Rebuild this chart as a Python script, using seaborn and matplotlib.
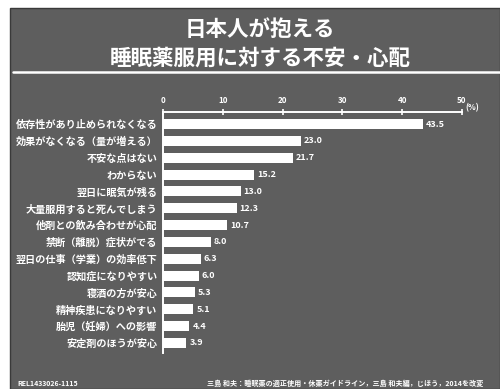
import matplotlib
matplotlib.use("Agg")
import matplotlib.pyplot as plt
from matplotlib.patches import Rectangle
from matplotlib.lines import Line2D
import pandas as pd
import seaborn as sns

# Survey answers: worries about taking sleeping pills (%)
categories = [
    "依存性があり止められなくなる",
    "効果がなくなる（量が増える）",
    "不安な点はない",
    "わからない",
    "翌日に眠気が残る",
    "大量服用すると死んでしまう",
    "他剤との飲み合わせが心配",
    "禁断（離脱）症状がでる",
    "翌日の仕事（学業）の効率低下",
    "認知症になりやすい",
    "寝酒の方が安心",
    "精神疾患になりやすい",
    "胎児（妊婦）への影響",
    "安定剤のほうが安心",
]
values = [43.5, 23.0, 21.7, 15.2, 13.0, 12.3, 10.7, 8.0, 6.3, 6.0, 5.3, 5.1, 4.4, 3.9]
x_ticks = [0, 10, 20, 30, 40, 50]
title_lines = ["日本人が抱える", "睡眠薬服用に対する不安・心配"]
code_text = "REL1433026-1115"
source_text = "三島 和夫：睡眠薬の適正使用・休薬ガイドライン，三島 和夫編，じほう，2014を改変"

sns.set_theme(style="white")
plt.rcParams["font.family"] = ["Noto Sans CJK JP", "DejaVu Sans"]

W, H = 500, 389
BG = "#5e5e5e"
fig = plt.figure(figsize=(W / 100, H / 100), dpi=100)
fig.patch.set_facecolor("white")

# slide panel
fig.add_artist(Rectangle((10 / W, 0), 1 - 10 / W, 1 - 8 / H, transform=fig.transFigure,
                         facecolor=BG, edgecolor="#3a3a3a", linewidth=1.0, zorder=0))

# title and rule
fig.text(260 / W, 1 - 29 / H, title_lines[0], color="white", fontsize=15.5,
         fontweight="bold", ha="center", va="center")
fig.text(260 / W, 1 - 58 / H, title_lines[1], color="white", fontsize=15.5,
         fontweight="bold", ha="center", va="center")
fig.add_artist(Line2D([13 / W, 1.0], [1 - 72 / H, 1 - 72 / H], transform=fig.transFigure,
                      color="white", linewidth=1.8))

df = pd.DataFrame({"category": categories, "value": values})

left, right = 163 / W, 462 / W
top, bottom = 1 - 112 / H, 1 - 353 / H
ax = fig.add_axes([left, bottom, right - left, top - bottom])
ax.set_facecolor("none")

sns.barplot(data=df, x="value", y="category", orient="h", color="white",
            width=0.6, saturation=1, ax=ax, edgecolor="none")

ax.set_xlim(0, 50)
ax.set_ylim(13.6, -0.72)
ax.set_xlabel("")
ax.set_ylabel("")

for s in ["right", "bottom"]:
    ax.spines[s].set_visible(False)
for s in ["left", "top"]:
    ax.spines[s].set_color("white")
    ax.spines[s].set_linewidth(1.4)

ax.xaxis.tick_top()
ax.set_xticks(x_ticks)
ax.set_xticklabels([str(t) for t in x_ticks])
ax.tick_params(axis="x", colors="white", labelsize=5.8, length=4, width=1.2,
               direction="inout", pad=3)
ax.tick_params(axis="y", length=0, labelsize=7.3, labelcolor="white", pad=4)
for lab in ax.get_yticklabels():
    lab.set_fontweight("bold")
for lab in ax.get_xticklabels():
    lab.set_fontweight("bold")

ax.text(1.01, 1.0, "(%)", transform=ax.transAxes, color="white", fontsize=5.8,
        fontweight="bold", ha="left", va="bottom")

# value labels at the bar ends
for i, v in enumerate(values):
    ax.text(v + 0.5, i, f"{v:.1f}", color="white", fontsize=6.5, fontweight="bold",
            ha="left", va="center")

# footer
fig.text(17 / W, 1 - 383 / H, code_text, color="white", fontsize=5.0, fontweight="bold",
         ha="left", va="center")
fig.text(207 / W, 1 - 383 / H, source_text, color="white", fontsize=5.1, fontweight="bold",
         ha="left", va="center")

fig.savefig("out.png", dpi=100, facecolor=fig.get_facecolor())
